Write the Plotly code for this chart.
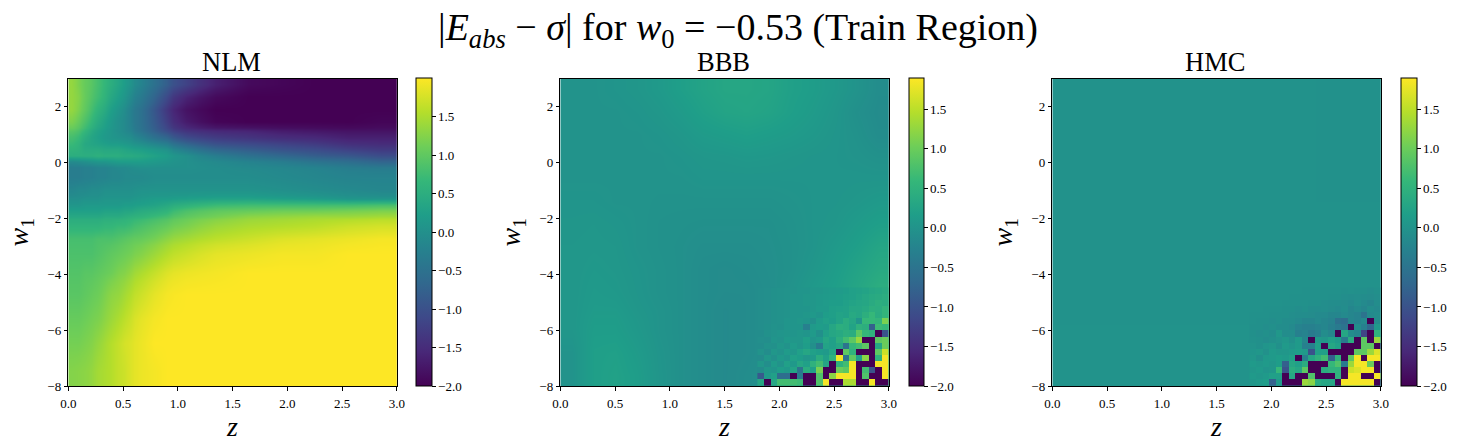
# Reference: |E_abs - sigma| heatmaps (NLM, BBB, HMC)
import plotly.graph_objects as go

# NLM panel, read top row first. Cells are narrower where the picture changes fast.
nlm_z_edges = [0, .06, .12, .18, .24, .30, .36, .42, .48, .54, .60, .72, .84, .96, 1.2, 1.5, 1.8, 2.1, 2.4, 2.7, 3.0]
nlm_w1_edges = [-8, -6.9, -6.02, -5.14, -4.26, -3.6, -2.94, -2.5, -2.06, -1.84, -1.62, -1.4, -1.18,
                -.74, -.3, -.08, .14, .36, .58, .8, 1.02, 1.24, 1.68, 2.12, 2.56, 3]
nlm_values = [
    [1.35, 1.2, 1.05, .95, .8, .65, .5, .35, .2, .05, -.2, -.5, -.8, -1.2, -1.65, -1.9, -1.95, -2, -2, -2],
    [1.35, 1.25, 1.05, .9, .75, .6, .4, .25, .1, -.1, -.35, -.7, -1.1, -1.6, -1.9, -2, -2, -2, -2, -2],
    [1.35, 1.2, 1.0, .8, .6, .45, .25, .1, -.05, -.25, -.5, -.9, -1.35, -1.8, -2, -2, -2, -2, -2, -2],
    [1.2, 1.05, .85, .65, .45, .3, .15, 0, -.1, -.25, -.5, -.85, -1.25, -1.7, -1.95, -2, -2, -2, -2, -1.95],
    [.95, .85, .65, .45, .3, .2, .1, 0, -.1, -.2, -.45, -.75, -1.05, -1.4, -1.55, -1.6, -1.7, -1.75, -1.8, -1.8],
    [.8, .7, .5, .35, .25, .15, .1, .05, 0, -.05, -.25, -.5, -.7, -1.1, -1.3, -1.4, -1.5, -1.55, -1.65, -1.65],
    [.7, .6, .4, .35, .3, .25, .2, .2, .15, .1, 0, -.15, -.3, -.7, -1.0, -1.1, -1.2, -1.3, -1.45, -1.5],
    [.6, .55, .45, .45, .45, .4, .4, .4, .35, .3, .25, .15, .05, -.3, -.65, -.8, -.95, -1.05, -1.2, -1.3],
    [.5, .5, .5, .5, .55, .5, .5, .5, .45, .45, .4, .3, .2, 0, -.3, -.5, -.65, -.8, -.9, -1.05],
    [-.1, -.05, 0, .05, .1, .1, .15, .2, .2, .2, .2, .15, .1, 0, -.1, -.2, -.3, -.45, -.55, -.7],
    [-.3, -.3, -.25, -.25, -.2, -.2, -.15, -.1, -.1, -.05, 0, 0, 0, 0, -.05, -.1, -.15, -.2, -.3, -.35],
    [-.3, -.3, -.25, -.25, -.2, -.2, -.15, -.15, -.1, -.1, -.1, -.05, -.05, -.05, -.05, -.05, -.1, -.15, -.2, -.2],
    [-.15, -.1, -.1, -.05, -.05, 0, 0, 0, 0, 0, .05, .05, .05, .05, .05, .05, 0, -.05, -.1, -.15],
    [0, 0, .05, .05, .05, .1, .1, .1, .1, .1, .15, .2, .2, .25, .3, .3, .25, .2, .1, .1],
    [.1, .1, .15, .15, .15, .15, .15, .15, .2, .2, .25, .3, .4, .55, .7, .75, .75, .75, .75, .8],
    [.25, .25, .25, .25, .25, .3, .3, .3, .35, .35, .45, .5, .6, .85, 1.0, 1.05, 1.1, 1.1, 1.15, 1.2],
    [.4, .4, .4, .4, .4, .45, .45, .45, .5, .55, .6, .7, .8, 1.0, 1.15, 1.3, 1.35, 1.4, 1.4, 1.45],
    [.6, .6, .6, .6, .6, .65, .65, .7, .7, .75, .85, .95, 1.05, 1.2, 1.4, 1.5, 1.55, 1.6, 1.7, 1.75],
    [.8, .8, .8, .8, .85, .85, .85, .9, .95, 1, 1.05, 1.15, 1.3, 1.45, 1.6, 1.7, 1.8, 1.85, 1.9, 1.95],
    [.85, .85, .85, .85, .9, .95, 1, 1.05, 1.1, 1.15, 1.25, 1.4, 1.55, 1.7, 1.85, 1.9, 1.95, 1.95, 2, 2],
    [.9, .9, .95, .95, 1, 1.05, 1.1, 1.2, 1.25, 1.35, 1.5, 1.65, 1.8, 1.9, 1.95, 2, 2, 2, 2, 2],
    [.95, .95, 1, 1.05, 1.1, 1.2, 1.3, 1.35, 1.45, 1.55, 1.7, 1.85, 1.95, 2, 2, 2, 2, 2, 2, 2],
    [1.05, 1.05, 1.1, 1.15, 1.2, 1.3, 1.4, 1.5, 1.6, 1.7, 1.85, 1.95, 2, 2, 2, 2, 2, 2, 2, 2],
    [1.15, 1.15, 1.2, 1.25, 1.35, 1.45, 1.55, 1.65, 1.75, 1.8, 1.9, 2, 2, 2, 2, 2, 2, 2, 2, 2],
    [1.25, 1.27, 1.3, 1.35, 1.45, 1.5, 1.55, 1.65, 1.7, 1.8, 1.9, 1.95, 2, 2, 2, 2, 2, 2, 2, 2],
]

# BBB smooth background, top row first
bbb_z_edges = [0, .2, .4, .6, .8, 1.0, 1.2, 1.4, 1.6, 1.8, 2.0, 2.2, 2.4, 2.6, 2.8, 3.0]
bbb_w1_edges = [-8, -7.2, -6.4, -5.6, -5, -4.2, -3.4, -2.6, -1.8, -1, -.2, .6, 1.4, 2.2, 3]
bbb_values = [
    [0, 0, .02, .05, .1, .18, .25, .3, .3, .28, .2, .15, .08, 0, -.1],
    [0, 0, 0, .02, .06, .12, .2, .26, .28, .25, .18, .12, .05, -.05, -.12],
    [0, 0, 0, 0, .02, .06, .12, .15, .18, .15, .12, .08, .03, -.02, -.1],
    [0, 0, 0, 0, 0, .02, .05, .06, .08, .07, .05, .03, .02, 0, -.03],
    [0, 0, 0, 0, 0, 0, .02, .02, .02, .02, .02, .02, .02, .03, .03],
    [.02, .02, 0, 0, -.02, -.02, -.02, -.02, -.02, -.02, 0, .02, .03, .06, .1],
    [.04, .05, .03, 0, -.03, -.04, -.05, -.05, -.05, -.05, -.02, .02, .05, .12, .18],
    [.05, .06, .05, 0, -.03, -.05, -.08, -.08, -.08, -.06, -.03, .02, .1, .18, .28],
    [.05, .08, .06, .02, -.02, -.05, -.1, -.12, -.1, -.07, -.03, .05, .14, .25, .35],
    [.05, .1, .08, .03, -.02, -.05, -.1, -.12, -.12, -.08, 0, .1, .18, .3, .45],
    [.05, .12, .12, .05, 0, -.05, -.1, -.14, -.12, -.08, 0, .1, .2, .3, .4],
    [.05, .15, .15, .08, 0, -.05, -.1, -.14, -.12, -.08, 0, .1, .2, .3, .4],
    [0, .18, .2, .12, .02, -.05, -.1, -.14, -.12, -.08, 0, .1, .2, .3, .4],
    [0, .18, .22, .15, .03, -.05, -.1, -.14, -.1, -.05, 0, .1, .2, .3, .4],
]

# BBB noisy corner, one cell per grid step, top row first
bbb_patch_z = [1.8, 1.86, 1.92, 1.98, 2.04, 2.1, 2.16, 2.22, 2.28, 2.34, 2.4, 2.46, 2.52, 2.58, 2.64, 2.7, 2.76, 2.82, 2.88, 2.94, 3.0]
bbb_patch_w1 = [-8, -7.78, -7.56, -7.34, -7.12, -6.9, -6.68, -6.46, -6.24, -6.02, -5.8, -5.58, -5.36, -5.14, -4.92, -4.7, -4.48]
bbb_patch_values = [
    [-.08, -.06, -.04, -.02, 0, 0, .02, .02, .05, .05, .08, .1, .12, .15, .2, .22, .25, .3, .33, .38],
    [-.08, -.06, -.04, -.02, 0, .02, .02, .05, .05, .08, .1, .12, .15, .18, .2, .25, .3, .35, .38, .42],
    [-.08, -.06, -.04, -.02, 0, .02, .03, .05, .06, .08, .12, .15, .15, .2, .25, .28, .3, .38, .45, .4],
    [-.08, -.06, -.04, -.02, 0, .03, .03, .02, .06, .1, .1, .18, .2, .22, .3, .3, .35, .45, .42, .55],
    [-.08, -.06, -.03, -.02, 0, .03, .02, .05, .08, .03, .15, .18, .25, .22, .35, .3, .45, .6, .4, .55],
    [-.08, -.06, -.03, -.02, .02, .02, .05, .02, -.05, .12, .2, .15, .25, .4, .3, .02, .6, .6, .55, 1.1],
    [-.08, -.05, -.02, -.03, .03, .03, .02, -.3, .1, .15, .12, .3, .45, .4, .25, .5, .45, -.8, .65, .6],
    [-.1, -.04, 0, .02, .04, .02, .06, .03, .1, -.05, .2, .3, .35, .45, .4, .9, .6, .5, -2, -1.0],
    [-.06, -.08, .03, 0, .08, .06, .05, .18, .03, .08, .3, .2, .45, .7, .9, 1.3, -2, -2, .9, 1.0],
    [-.1, -.02, -.04, .05, 0, .12, .04, .15, -.05, -.4, .25, .2, .3, -.5, .6, .7, .9, -2, .3, 1.0],
    [0, -.1, .05, 0, .12, .06, .2, .3, .2, .15, .1, .3, -2, .9, .5, -2, -2, -2, .9, 1.6],
    [-.12, .05, -.03, .08, .02, .2, .15, .05, .1, .4, .2, .5, 1.85, -.5, .9, .2, 1.2, -2, .5, 1.85],
    [.05, -.08, .12, 0, .2, .08, .3, .2, .5, .7, .3, -2, .5, .7, 1.85, -2, -2, -2, 1.85, 1.85],
    [-.12, .06, .02, .15, .08, .25, -.5, .4, .2, 1.1, -2, -2, 1.0, .9, 1.85, -2, .7, -1.0, -2, 1.85],
    [-.9, .1, .2, -.6, -.6, -2, -.4, -2, -2, .8, -2, 1.2, 1.85, 1.85, 1.85, -2, .8, -2, -2, 1.85],
    [.3, -2, .3, .7, .7, .7, .65, -2, -2, .8, 1.85, -2, -2, 1.4, 1.4, -2, -2, 1.85, -2, -2],
]

# HMC smooth background, top row first
hmc_z_edges = [0, .6, 1.2, 1.8, 2.4, 3.0]
hmc_w1_edges = [-8, -5.8, -3.6, -1.4, .8, 3]
hmc_values = [
    [-.02, -.02, -.02, -.02, -.03],
    [-.02, -.02, -.02, -.02, -.03],
    [-.02, -.02, -.02, -.02, -.02],
    [-.02, -.02, -.02, -.02, -.02],
    [-.01, -.01, -.01, -.02, -.02],
]

# HMC noisy corner, top row first
hmc_patch_z = bbb_patch_z
hmc_patch_w1 = bbb_patch_w1
hmc_patch_values = [
    [-.02, -.02, -.02, -.02, -.02, -.02, -.02, -.02, -.03, -.03, -.03, -.03, -.03, -.04, -.05, -.04, -.05, -.05, -.08, -.05],
    [-.02, -.02, -.02, -.02, -.02, -.02, -.03, -.03, -.03, -.04, -.04, -.03, -.05, -.05, -.08, -.1, -.08, -.1, -.12, -.08],
    [-.02, -.02, -.02, -.02, -.02, -.03, -.03, -.04, -.04, -.05, -.05, -.08, -.1, -.1, -.12, -.15, -.08, -.15, -.2, -.1],
    [-.02, -.02, -.03, -.03, -.03, -.05, -.05, -.08, -.05, -.1, -.1, -.08, -.12, -.15, -.1, -.2, -.15, -.2, -.1, -.15],
    [-.03, -.03, -.03, -.05, -.05, -.05, -.08, -.1, -.1, -.12, -.15, -.15, -.2, -.2, -.15, -.2, -.25, -.5, -.15, -.1],
    [-.03, -.05, -.05, -.08, -.05, -.1, -.1, -.15, -.2, -.2, -.15, -.2, -.25, -.55, -.6, -.2, -.25, -.15, -2, -.1],
    [-.05, -.05, -.08, -.05, -.1, -.1, -.15, -.25, -.3, -.3, -.25, -.2, -.3, -.4, -.5, -2, -.1, -.3, -.7, .1],
    [-.05, -.08, -.05, -.1, .05, -.1, -.1, -.3, -.25, -.4, -.3, -.1, -.2, -2, .3, -.1, -.2, -1.2, -2, .5],
    [-.03, -.05, -.1, -.05, 0, .05, -.05, .1, -.2, -2, .1, .05, .2, .1, -.4, .4, -2, .9, -2, 1.3],
    [0, -.05, .02, .05, -.05, .1, .02, .1, -.3, -.3, .2, -2, .3, .2, -2, -2, -2, .9, .9, -2],
    [.02, .05, -.03, .1, .05, .05, .1, .15, .1, -1.0, .2, .2, -2, -2, -2, -2, .9, .9, 1.3, 1.7],
    [.05, -.05, .08, .1, .15, .1, .2, -2, -.3, .3, .5, .7, -.8, .5, -2, .9, 1.85, -2, 1.85, 1.85],
    [.1, .05, .1, .05, .15, -.8, .3, .2, .4, -2, -2, -2, .6, .8, -.4, 1.3, 1.85, 1.85, 1.0, -2],
    [.05, .1, .03, .05, .6, -1.0, .4, .3, .9, -2, -2, .4, .5, .5, -2, 1.6, 1.7, 1.85, 1.85, -2],
    [.1, .05, .1, .2, .2, -2, .3, -2, -2, .8, -2, -2, -2, .5, -2, 1.85, 1.85, -2, -2, 1.85],
    [.05, .1, .15, -.8, .1, -2, -2, -2, 1.3, 1.2, .4, .3, .3, -2, 1.85, 1.85, 1.85, 1.85, 1.85, -2],
]

panel_names = ["NLM", "BBB", "HMC"]
tick_vals_x = [0, .5, 1, 1.5, 2, 2.5, 3]
tick_vals_y = [-8, -6, -4, -2, 0, 2]
cbar_ticks = [-2, -1.5, -1, -.5, 0, .5, 1, 1.5]

W = 1464
H = 448
LEFTS = [68.3, 560.3, 1052.3]
AX_W = 328.5
TOP = 78.5
BOTTOM = 386
CB_LEFTS = [416.3, 909.3, 1401.3]
CB_THICK = [16.4, 15, 16]
FONT = "Liberation Serif"
TICK_FONT = dict(family=FONT, size=13, color="black")

fig = go.Figure()


def add_map(panel, x, y, z, zmax, show, smooth):
    fig.add_trace(go.Heatmap(
        x=x, y=y, z=z[::-1], zmin=-2, zmax=zmax, colorscale="Viridis", showscale=show, zsmooth=smooth,
        xaxis="x" + str(panel + 1), yaxis="y" + str(panel + 1), hoverinfo="skip",
        colorbar=dict(
            x=CB_LEFTS[panel] / W, xanchor="left", xpad=0, ypad=0,
            y=(H - BOTTOM) / H, yanchor="bottom", lenmode="fraction", len=(BOTTOM - TOP) / H,
            thickness=CB_THICK[panel], outlinecolor="black", outlinewidth=1,
            tickvals=cbar_ticks, tickformat=".1f", ticks="outside", ticklen=3.5, tickwidth=1,
            tickcolor="black", tickfont=TICK_FONT,
        ),
    ))


add_map(0, nlm_z_edges, nlm_w1_edges, nlm_values, 2.0, True, "best")
add_map(1, bbb_z_edges, bbb_w1_edges, bbb_values, 1.897, True, "best")
add_map(1, bbb_patch_z, bbb_patch_w1, bbb_patch_values, 1.897, False, False)
add_map(2, hmc_z_edges, hmc_w1_edges, hmc_values, 1.897, True, False)
add_map(2, hmc_patch_z, hmc_patch_w1, hmc_patch_values, 1.897, False, False)

layout = dict(
    width=W, height=H, margin=dict(l=0, r=0, t=0, b=0, autoexpand=False),
    paper_bgcolor="white", plot_bgcolor="white", showlegend=False,
    title=dict(
        text="|<i>E<sub>abs</sub></i> − <i>σ</i>| for <i>w</i><sub>0</sub> = −0.53 (Train Region)",
        x=738 / W, xanchor="center", y=1 - 27 / H, yanchor="middle",
        font=dict(family=FONT, size=38, color="black"),
    ),
)
annotations = []
for i, name in enumerate(panel_names):
    axis_common = dict(
        showline=True, linecolor="black", linewidth=1, mirror=True, showgrid=False, zeroline=False,
        ticks="outside", ticklen=3.5, tickwidth=1, tickcolor="black", tickfont=TICK_FONT,
        automargin=True,
    )
    layout["xaxis" + str(i + 1)] = dict(
        domain=[LEFTS[i] / W, (LEFTS[i] + AX_W) / W], range=[0, 3], anchor="y" + str(i + 1),
        tickvals=tick_vals_x, tickformat=".1f", ticklabelstandoff=2,
        title=dict(text="<i>z</i>", standoff=2, font=dict(family=FONT, size=28, color="black")),
        **axis_common,
    )
    layout["yaxis" + str(i + 1)] = dict(
        domain=[1 - BOTTOM / H, 1 - TOP / H], range=[-8, 3], anchor="x" + str(i + 1),
        tickvals=tick_vals_y,
        title=dict(text="<i>w</i><sub>1</sub>", standoff=10, font=dict(family=FONT, size=28, color="black")),
        **axis_common,
    )
    annotations.append(dict(
        text=name, x=(LEFTS[i] + AX_W / 2 - 1.5) / W, y=1 - 62 / H, xref="paper", yref="paper", showarrow=False,
        xanchor="center", yanchor="middle", font=dict(family=FONT, size=26.5, color="black"),
    ))
layout["annotations"] = annotations
fig.update_layout(**layout)

fig.write_html("out.html", config=dict(displayModeBar=False),
               post_script="document.body.style.margin = '0';")
